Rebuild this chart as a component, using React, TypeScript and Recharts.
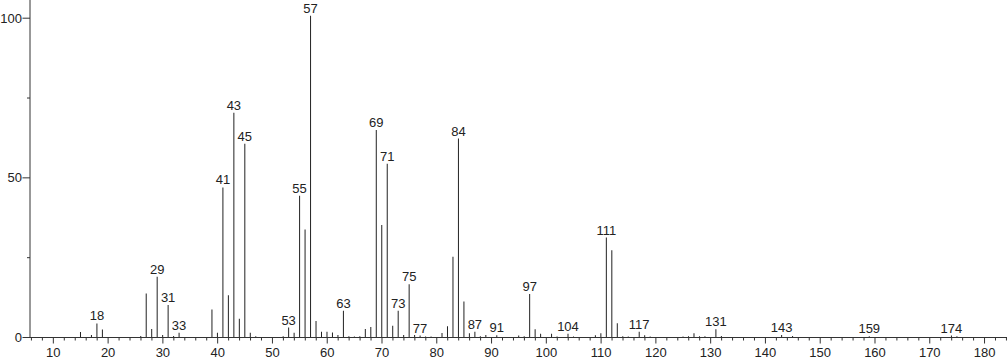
import React from 'react';
import { BarChart, Bar, XAxis, YAxis, LabelList } from 'recharts';

const mzValues = [
  15, 17, 18, 19, 26, 27, 28, 29, 30, 31, 32, 33, 39, 40, 41, 42, 43, 44, 45, 46, 47,
  52, 53, 54, 55, 56, 57, 58, 59, 60, 61, 62, 63, 64, 65, 66, 67, 68, 69, 70, 71, 72,
  73, 74, 75, 76, 77, 78, 79, 81, 82, 83, 84, 85, 86, 87, 88, 89, 91, 95, 96, 97, 98,
  99, 101, 102, 104, 105, 109, 110, 111, 112, 113, 114, 115, 117, 118, 119, 125, 126,
  127, 128, 129, 131, 132, 143, 145, 159, 174, 175,
];

const intensities = [
  1.7, 0.8, 4.4, 2.5, 0.5, 13.8, 2.7, 19.0, 0.8, 10.2, 0.5, 1.5, 8.8, 1.5, 47.0, 13.2, 70.4, 5.9, 60.7, 1.5, 0.4,
  0.4, 3.1, 1.5, 44.4, 33.8, 100.8, 5.2, 1.8, 1.8, 1.6, 0.8, 8.4, 0.4, 0.3, 0.4, 2.7, 3.3, 65.0, 35.2, 54.4, 3.7,
  8.4, 0.8, 16.7, 0.8, 0.6, 0.3, 0.3, 1.4, 3.5, 25.3, 62.3, 11.3, 1.3, 1.8, 0.4, 0.8, 0.7, 0.6, 0.4, 13.6, 2.6,
  1.2, 1.2, 0.3, 1.2, 0.3, 0.7, 1.3, 31.3, 27.3, 4.5, 0.4, 0.3, 1.8, 0.7, 0.3, 0.3, 0.4,
  1.3, 0.4, 0.4, 2.6, 0.5, 0.8, 0.5, 0.4, 0.6, 0.4,
];

const labeledPeaks = [
  18, 29, 31, 33, 41, 43, 45, 53, 55, 57, 63, 69, 71, 73, 75, 77, 84, 87, 91, 97,
  104, 111, 117, 131, 143, 159, 174,
];

const xMajorTicks = [10, 20, 30, 40, 50, 60, 70, 80, 90, 100, 110, 120, 130, 140, 150, 160, 170, 180];
const xMinorTicks = [
  6, 8, 12, 14, 16, 18, 22, 24, 26, 28, 32, 34, 36, 38, 42, 44, 46, 48, 52, 54, 56, 58,
  62, 64, 66, 68, 72, 74, 76, 78, 82, 84, 86, 88, 92, 94, 96, 98, 102, 104, 106, 108,
  112, 114, 116, 118, 122, 124, 126, 128, 132, 134, 136, 138, 142, 144, 146, 148,
  152, 154, 156, 158, 162, 164, 166, 168, 172, 174, 176, 178, 182, 184,
];
const yMajorTicks = [0, 50, 100];
const yMinorTicks = [25, 75];

const data = mzValues.map((mz, i) => ({
  mz,
  intensity: intensities[i],
  label: labeledPeaks.includes(mz) ? String(mz) : undefined,
}));

const FONT = '"Liberation Sans", Arial, sans-serif';
const INK = '#222';

function XTick(props: any) {
  const { x, y, payload } = props;
  const major = xMajorTicks.includes(payload.value);
  return (
    <g>
      <line x1={x} x2={x} y1={y} y2={y + (major ? 6 : 3)} stroke="#333" />
      {major && (
        <text x={x} y={y + 19.5} textAnchor="middle" fontSize={13} fontFamily={FONT} fill={INK}>
          {payload.value}
        </text>
      )}
    </g>
  );
}

function YTick(props: any) {
  const { x, y, payload } = props;
  const major = yMajorTicks.includes(payload.value);
  return (
    <g>
      <line x1={x - (major ? 7.5 : 3)} x2={x} y1={y} y2={y} stroke="#333" />
      {major && (
        <text x={x - 8} y={y + 4.6} textAnchor="end" fontSize={13} fontFamily={FONT} fill={INK}>
          {payload.value}
        </text>
      )}
    </g>
  );
}

export default function App() {
  return (
    <div style={{ position: 'absolute', left: 0, top: 0 }}>
      <BarChart
        width={1007}
        height={362}
        data={data}
        margin={{ top: 0, right: 0, bottom: 0, left: 0 }}
        barCategoryGap={0}
      >
        <XAxis
          type="number"
          dataKey="mz"
          domain={[5.74, 184.1]}
          allowDataOverflow
          ticks={[...xMajorTicks, ...xMinorTicks].sort((a, b) => a - b)}
          interval={0}
          height={24.5}
          tickSize={0}
          tickMargin={0}
          tickLine={false}
          tick={<XTick />}
          axisLine={{ stroke: '#333' }}
        />
        <YAxis
          type="number"
          domain={[0, 105.7]}
          allowDataOverflow
          ticks={[...yMajorTicks, ...yMinorTicks].sort((a, b) => a - b)}
          interval={0}
          width={30}
          tickSize={0}
          tickMargin={0}
          tickLine={false}
          tick={<YTick />}
          axisLine={{ stroke: '#333' }}
        />
        <Bar dataKey="intensity" barSize={1} fill="#222" isAnimationActive={false}>
          <LabelList
            dataKey="label"
            position="top"
            offset={3}
            style={{ fontSize: 13, fontFamily: FONT, fill: INK }}
          />
        </Bar>
      </BarChart>
    </div>
  );
}
